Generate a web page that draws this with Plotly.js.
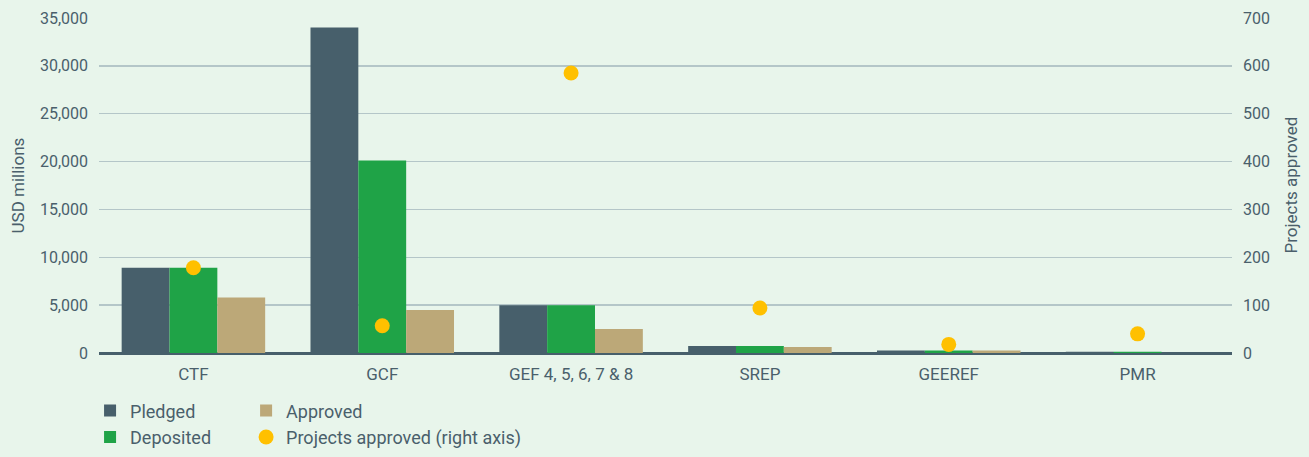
<!DOCTYPE html>
<html><head><meta charset="utf-8">
<script src="https://cdn.plot.ly/plotly-3.0.1.min.js"></script>
<style>html,body{margin:0;padding:0;background:#e8f5eb;}</style>
</head><body>
<div id="chart" style="width:1309px;height:457px;"></div>
<script>
const categories = ["CTF", "GCF", "GEF 4, 5, 6, 7 & 8", "SREP", "GEEREF", "PMR"];
const pledged = [8900, 34000, 5000, 740, 250, 120];
const deposited = [8900, 20100, 5000, 730, 250, 120];
const approved = [5800, 4500, 2500, 630, 250, 10];
const projectsApproved = [178, 57, 585, 94, 18, 40];
const leftTicks = [0, 5000, 10000, 15000, 20000, 25000, 30000, 35000];
const rightTicks = [0, 100, 200, 300, 400, 500, 600, 700];

const FONT = "'Roboto', sans-serif";
const TXT = "#4a5f6b";

const traces = [
  {type:"bar", name:"Pledged", x:categories, y:pledged, marker:{color:"#475f6b"}, legend:"legend"},
  {type:"bar", name:"Deposited", x:categories, y:deposited, marker:{color:"#1fa347"}, legend:"legend"},
  {type:"bar", name:"Approved", x:categories, y:approved, marker:{color:"#bca878"}, legend:"legend2"},
  {type:"scatter", mode:"markers", name:"Projects approved (right axis)", x:categories, y:projectsApproved,
   yaxis:"y2", marker:{color:"#ffc000", size:15}, legend:"legend2"}
];

const layout = {
  width:1309, height:457,
  paper_bgcolor:"#e8f5eb", plot_bgcolor:"#e8f5eb",
  margin:{l:99, r:77, t:18, b:104, autoexpand:false},
  font:{family:FONT, size:16, color:TXT},
  barmode:"group", bargap:0.24, bargroupgap:0,
  xaxis:{type:"category", showgrid:false, ticks:"", tickfont:{size:17, color:TXT}, showline:false, ticklabelstandoff:9},
  yaxis:{range:[0,35000], tickvals:leftTicks, ticktext:leftTicks.map(v=>v.toLocaleString("en-US")),
    showgrid:true, gridcolor:"#b4c6c8", gridwidth:1.5, zeroline:true, zerolinecolor:"#475f6b", zerolinewidth:3,
    ticks:"", ticklabelstandoff:10, tickfont:{size:16, color:TXT}},
  yaxis2:{overlaying:"y", side:"right", range:[0,700], tickvals:rightTicks, showgrid:false, zeroline:false,
    ticks:"", ticklabelstandoff:10, tickfont:{size:16, color:TXT}},
  annotations:[
    {text:"USD millions", xref:"paper", yref:"paper", x:-0.0715, y:0.5, textangle:-90, showarrow:false,
     xanchor:"center", yanchor:"middle", font:{size:17, color:TXT}},
    {text:"Projects approved", xref:"paper", yref:"paper", x:1.0512, y:0.5, textangle:-90, showarrow:false,
     xanchor:"center", yanchor:"middle", font:{size:17, color:TXT}}
  ],
  legend:{xref:"container", yref:"container", x:0.0688, xanchor:"left", y:0.1415, yanchor:"top", orientation:"v",
    bgcolor:"rgba(0,0,0,0)", font:{size:18, color:TXT}, tracegroupgap:0, itemwidth:30},
  legend2:{xref:"container", yref:"container", x:0.188, xanchor:"left", y:0.1415, yanchor:"top", orientation:"v",
    bgcolor:"rgba(0,0,0,0)", font:{size:18, color:TXT}, tracegroupgap:0, itemwidth:30},
  showlegend:true
};

Plotly.newPlot("chart", traces, layout, {displayModeBar:false, staticPlot:true});
</script>
</body></html>
